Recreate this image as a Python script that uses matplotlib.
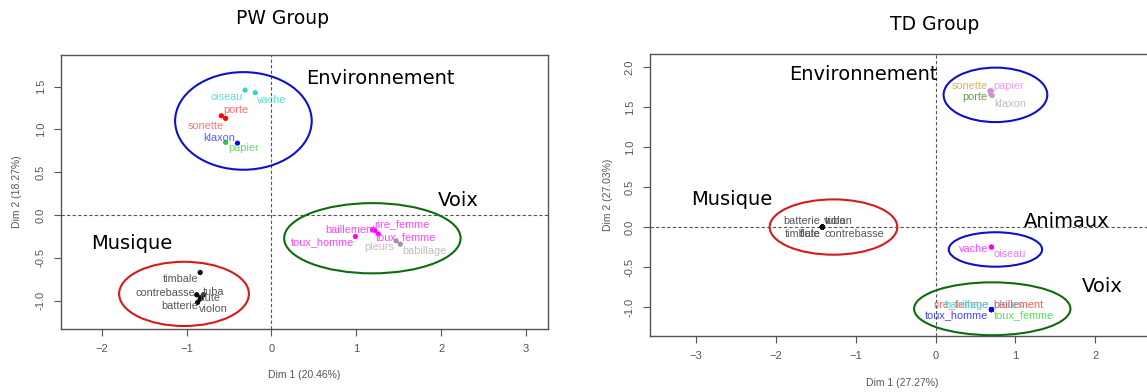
import numpy as np
import matplotlib
matplotlib.use("Agg")
import matplotlib.pyplot as plt
from matplotlib.patches import Ellipse

# ---------------- data : PW group ----------------
pw_names = ['oiseau', 'vache', 'porte', 'sonette', 'klaxon', 'papier',
            'baillement', 'rire_femme', 'toux_femme', 'toux_homme', 'pleurs', 'babillage',
            'timbale', 'contrebasse', 'tuba', 'flute', 'batterie', 'violon']
pw_x = [-0.31, -0.19, -0.54, -0.59, -0.40, -0.54,
        1.19, 1.22, 1.26, 0.99, 1.47, 1.52,
        -0.84, -0.88, -0.80, -0.83, -0.87, -0.84]
pw_y = [1.46, 1.43, 1.13, 1.16, 0.84, 0.85,
        -0.17, -0.18, -0.22, -0.25, -0.30, -0.34,
        -0.67, -0.93, -0.93, -0.96, -1.02, -0.98]
pw_groups = ['Environnement', 'Voix', 'Musique']
pw_ell_x = [-0.33, 1.19, -1.03]
pw_ell_y = [1.10, -0.27, -0.92]
pw_ell_w = [1.61, 2.08, 1.53]
pw_ell_h = [1.14, 0.82, 0.75]

# ---------------- data : TD group ----------------
td_names = ['sonette', 'papier', 'porte', 'klaxon',
            'batterie', 'tuba', 'violon', 'timbale', 'flute', 'contrebasse',
            'vache', 'oiseau',
            'rire_femme', 'babillage', 'pleurs', 'baillement', 'toux_homme', 'toux_femme']
td_x = [0.68, 0.70, 0.69, 0.71,
        -1.42, -1.42, -1.42, -1.42, -1.42, -1.42,
        0.70, 0.70,
        0.70, 0.70, 0.70, 0.70, 0.70, 0.70]
td_y = [1.70, 1.70, 1.66, 1.64,
        0.0, 0.0, 0.0, 0.0, 0.0, 0.0,
        -0.25, -0.25,
        -1.03, -1.03, -1.03, -1.03, -1.03, -1.03]
td_groups = ['Environnement', 'Musique', 'Animaux', 'Voix']
td_ell_x = [0.75, -1.28, 0.75, 0.71]
td_ell_y = [1.65, 0.0, -0.28, -1.02]
td_ell_w = [1.30, 1.60, 1.17, 1.96]
td_ell_h = [0.68, 0.69, 0.43, 0.66]

# ---------------- styles ----------------
pw_pt_col = ['#2ad6d6', '#2ad6d6', '#ff0000', '#ff0000', '#0000ff', '#22cc22',
             '#ff00ff', '#ff00ff', '#ff00ff', '#ff00ff', '#999999', '#999999',
             'black', 'black', 'black', 'black', 'black', 'black']
pw_lab_col = ['#55e0e0', '#55e0e0', '#ff6a6a', '#ff7373', '#5a5aff', '#6ad86a',
              '#ff44ff', '#ff44ff', '#ff44ff', '#ff44ff', '#bdbdbd', '#bdbdbd',
              '#555555', '#555555', '#555555', '#555555', '#555555', '#555555']
# label offsets in pixels (dx, dy up), horizontal alignment
pw_lab_off = [(-18, -7, 'center'), (16, -7, 'center'), (10, 8, 'center'), (-16, -10, 'center'),
              (-18, 5, 'center'), (18, -6, 'center'),
              (-22, 0, 'center'), (27, 6, 'center'), (28, -3, 'center'), (-33, -6, 'center'),
              (-17, -6, 'center'), (24, -7, 'center'),
              (-20, -7, 'center'), (-31, 2, 'center'), (10, 3, 'center'), (9, -1, 'center'),
              (-18, -4, 'center'), (13, -10, 'center')]
pw_ell_col = ['#1010cc', '#0f6b0f', '#d81a1a']
pw_grp_pos = [(0.41, 1.59), (1.96, 0.175), (-2.12, -0.33)]

td_pt_col = ['#dd88dd', '#dd88dd', '#c899c8', '#c899c8',
             'black', 'black', 'black', 'black', 'black', 'black',
             '#ff00ff', '#ff00ff',
             '#0000ff', '#0000ff', '#0000ff', '#0000ff', '#0000ff', '#0000ff']
td_lab_col = ['#d9b35a', '#eea0ee', '#5f9e48', '#bbbbbb',
              '#555555', '#555555', '#555555', '#555555', '#555555', '#555555',
              '#ff44ff', '#ee77ee',
              '#ff6666', '#44dddd', '#55dddd', '#ff5555', '#4444ff', '#55dd55']
td_lab_off = [(-2, 5, 'right'), (2, 5, 'left'), (-3, -3, 'right'), (2, -8, 'left'),
              (-2, 6, 'right'), (2, 6, 'left'), (2, 6, 'left'), (-2, -7, 'right'),
              (-2, -7, 'right'), (2, -7, 'left'),
              (-3, -2, 'right'), (2, -7, 'left'),
              (-3, 5, 'right'), (-3, 5, 'right'), (2, 5, 'left'), (2, 5, 'left'),
              (-3, -6, 'right'), (2, -6, 'left')]
td_ell_col = ['#1010cc', '#d81a1a', '#1010cc', '#0f6b0f']
td_grp_pos = [(-1.84, 1.91), (-3.06, 0.35), (1.10, 0.07), (1.83, -0.74)]

W, H = 1147, 392
fig = plt.figure(figsize=(W / 100, H / 100), dpi=100)

ax1 = fig.add_axes([61 / W, 1 - 329 / H, 487 / W, 274 / H])
ax2 = fig.add_axes([650 / W, 1 - 336 / H, 505 / W, 282 / H])


def draw_panel(ax, names, xs, ys, ptc, labc, offs, ex, ey, ew, eh, ecol, groups, gpos):
    ax.axhline(0, color='#555555', lw=0.8, ls=(0, (3, 2)), zorder=1)
    ax.axvline(0, color='#555555', lw=0.8, ls=(0, (3, 2)), zorder=1)
    for i in range(len(ex)):
        ax.add_patch(Ellipse((ex[i], ey[i]), ew[i], eh[i], fill=False,
                             edgecolor=ecol[i], lw=1.5, zorder=2))
    ax.scatter(xs, ys, s=14, c=ptc, zorder=3, linewidths=0)
    for i, n in enumerate(names):
        dx, dy, ha = offs[i]
        ax.annotate(n, (xs[i], ys[i]), xytext=(dx, dy), textcoords='offset pixels',
                    ha=ha, va='center', color=labc[i], fontsize=7.8,
                    family='Liberation Sans', zorder=4)
    for g, (gx, gy) in zip(groups, gpos):
        ax.text(gx, gy, g, fontsize=14, family='DejaVu Sans', color='black',
                ha='left', va='center', zorder=5)
    for s in ax.spines.values():
        s.set_color('#555555')
        s.set_linewidth(1.0)
    ax.tick_params(direction='out', length=5, width=0.8, color='#555555',
                   labelcolor='#555555', labelsize=8, pad=6)
    for lab in ax.get_yticklabels():
        lab.set_rotation(90)
        lab.set_va('center')
        lab.set_family('Liberation Sans')
    for lab in ax.get_xticklabels():
        lab.set_family('Liberation Sans')


ax1.set_xlim(-2.48, 3.26)
ax1.set_ylim(-1.33, 1.87)
ax1.set_xticks([-2, -1, 0, 1, 2, 3])
ax1.set_yticks([-1.0, -0.5, 0.0, 0.5, 1.0, 1.5])
ax1.set_yticklabels(['-1.0', '-0.5', '0.0', '0.5', '1.0', '1.5'])
draw_panel(ax1, pw_names, pw_x, pw_y, pw_pt_col, pw_lab_col, pw_lab_off,
           pw_ell_x, pw_ell_y, pw_ell_w, pw_ell_h, pw_ell_col, pw_groups, pw_grp_pos)

ax2.set_xlim(-3.58, 2.75)
ax2.set_ylim(-1.36, 2.16)
ax2.set_xticks([-3, -2, -1, 0, 1, 2])
ax2.set_yticks([-1.0, -0.5, 0.0, 0.5, 1.0, 1.5, 2.0])
ax2.set_yticklabels(['-1.0', '-0.5', '0.0', '0.5', '1.0', '1.5', '2.0'])
draw_panel(ax2, td_names, td_x, td_y, td_pt_col, td_lab_col, td_lab_off,
           td_ell_x, td_ell_y, td_ell_w, td_ell_h, td_ell_col, td_groups, td_grp_pos)

fig.text(283 / W, 1 - 18 / H, 'PW Group', ha='center', va='center', fontsize=13.5)
fig.text(935 / W, 1 - 24 / H, 'TD Group', ha='center', va='center', fontsize=13.5)

fig.text(304 / W, 1 - 375 / H, 'Dim 1 (20.46%)', ha='center', va='center',
         fontsize=7.5, color='#555555', family='Liberation Sans')
fig.text(17 / W, 1 - 192 / H, 'Dim 2 (18.27%)', ha='center', va='center', rotation=90,
         fontsize=7.5, color='#555555', family='Liberation Sans')
fig.text(902 / W, 1 - 383 / H, 'Dim 1 (27.27%)', ha='center', va='center',
         fontsize=7.5, color='#555555', family='Liberation Sans')
fig.text(608 / W, 1 - 195 / H, 'Dim 2 (27.03%)', ha='center', va='center', rotation=90,
         fontsize=7.5, color='#555555', family='Liberation Sans')

fig.savefig('out.png', dpi=100)
